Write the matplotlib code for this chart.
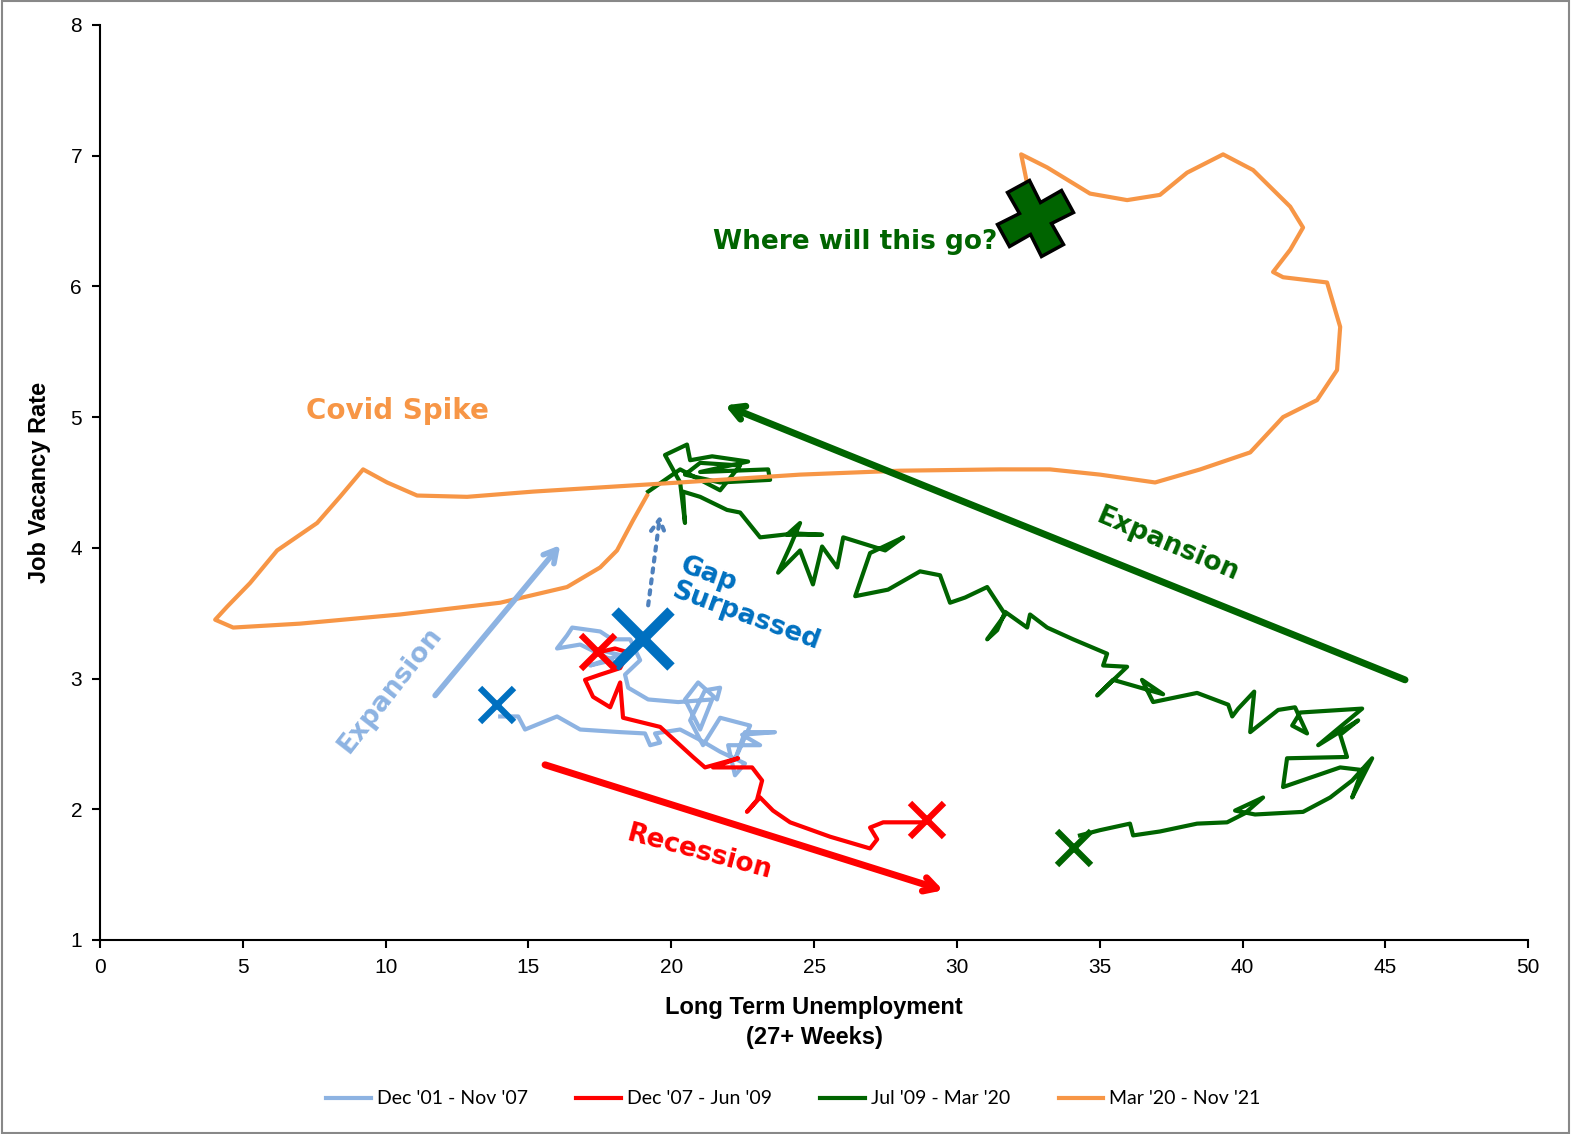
import matplotlib.pyplot as plt
import numpy as np
from matplotlib.markers import MarkerStyle
from matplotlib.transforms import Affine2D
from matplotlib.patches import Rectangle

# long term unemployment share (x) vs job vacancy rate (y)
x_0107 = [14.01, 14.64, 14.88, 16.00, 16.81, 18.21, 19.08, 19.26, 19.61, 19.43, 20.31, 21.01, 21.71, 22.58,
          22.23, 21.99, 23.11, 22.48, 23.63, 22.58, 22.23, 22.76, 21.71, 21.11, 20.66, 21.18, 21.71, 21.60,
          20.94, 20.48, 21.01, 21.43, 20.24, 19.19, 18.49, 18.38, 18.91, 18.56, 17.93, 17.51, 16.53, 16.35,
          16.00, 16.81, 17.93, 17.16, 18.21, 17.44]
y_0107 = [2.71, 2.71, 2.61, 2.71, 2.61, 2.59, 2.58, 2.49, 2.51, 2.58, 2.61, 2.53, 2.44, 2.35,
          2.26, 2.49, 2.49, 2.57, 2.59, 2.59, 2.38, 2.64, 2.70, 2.49, 2.68, 2.91, 2.93, 2.84,
          2.97, 2.84, 2.61, 2.84, 2.82, 2.84, 2.93, 3.03, 3.14, 3.30, 3.30, 3.36, 3.39, 3.33,
          3.23, 3.26, 3.14, 3.10, 3.18, 3.22]

x_0709 = [17.44, 18.03, 18.49, 18.21, 17.51, 16.98, 17.26, 17.86, 18.21, 18.31, 19.61, 20.76, 21.18, 22.34,
          21.46, 22.83, 23.18, 23.00, 22.65, 23.11, 23.56, 24.16, 25.56, 26.96, 27.21, 26.96, 27.42, 28.96]
y_0709 = [3.20, 3.23, 3.20, 3.08, 3.03, 2.99, 2.86, 2.78, 2.97, 2.70, 2.63, 2.40, 2.32, 2.39,
          2.32, 2.32, 2.22, 2.07, 1.98, 2.09, 1.99, 1.90, 1.79, 1.70, 1.77, 1.86, 1.90, 1.90]

x_0920 = [34.31, 35.01, 36.06, 36.17, 37.11, 38.41, 39.46, 40.09, 40.72, 39.74, 40.44, 42.12, 43.07, 43.84,
          44.54, 43.84, 44.19, 43.42, 41.42, 41.56, 43.66, 43.42, 44.05, 42.65, 44.19, 42.02, 41.74, 42.26,
          41.84, 41.25, 40.27, 40.41, 39.85, 39.64, 39.50, 38.41, 36.87, 36.48, 37.22, 35.47, 34.91, 35.96,
          35.12, 35.26, 34.07, 33.16, 32.56, 32.46, 31.69, 31.41, 31.06, 31.69, 31.06, 30.29, 29.76, 29.41,
          28.71, 27.59, 26.44, 26.96, 28.12, 27.49, 26.02, 25.81, 25.28, 24.96, 24.51, 23.74, 24.16, 24.51,
          24.05, 25.28, 24.33, 23.11, 22.41, 21.95, 21.01, 20.41, 20.48, 20.31, 19.78, 20.55, 20.66, 21.43,
          22.69, 21.01, 23.39, 23.46, 21.71, 20.48, 21.01, 22.41, 21.71, 20.31, 19.19]
y_0920 = [1.80, 1.84, 1.89, 1.80, 1.83, 1.89, 1.90, 1.97, 2.09, 1.99, 1.96, 1.98, 2.09, 2.22,
          2.39, 2.09, 2.30, 2.32, 2.17, 2.39, 2.40, 2.57, 2.68, 2.49, 2.77, 2.74, 2.64, 2.58,
          2.78, 2.76, 2.59, 2.90, 2.77, 2.71, 2.80, 2.89, 2.82, 2.99, 2.88, 2.99, 2.87, 3.09,
          3.10, 3.19, 3.30, 3.39, 3.49, 3.39, 3.51, 3.37, 3.30, 3.49, 3.70, 3.62, 3.58, 3.79,
          3.82, 3.68, 3.63, 3.96, 4.08, 3.98, 4.08, 3.85, 4.01, 3.72, 3.98, 3.81, 4.01, 4.19,
          4.10, 4.10, 4.11, 4.08, 4.27, 4.29, 4.39, 4.43, 4.19, 4.50, 4.71, 4.79, 4.67, 4.70,
          4.66, 4.58, 4.60, 4.52, 4.50, 4.56, 4.65, 4.63, 4.44, 4.60, 4.43]

x_2021 = [19.15, 18.66, 18.10, 17.51, 16.35, 14.01, 10.50, 7.00, 4.66, 4.03, 4.45, 5.25, 6.20, 7.60,
          8.40, 9.21, 10.05, 11.10, 12.85, 15.16, 20.31, 24.51, 28.01, 31.51, 33.26, 35.01, 36.94, 38.52,
          40.27, 41.42, 42.61, 43.31, 43.42, 42.96, 41.42, 41.07, 41.67, 42.12, 41.67, 40.37, 39.32, 38.06,
          37.11, 35.96, 34.66, 33.16, 32.25, 32.56]
y_2021 = [4.40, 4.21, 3.98, 3.85, 3.70, 3.58, 3.49, 3.42, 3.39, 3.45, 3.55, 3.73, 3.98, 4.19,
          4.39, 4.60, 4.50, 4.40, 4.39, 4.43, 4.50, 4.56, 4.59, 4.60, 4.60, 4.56, 4.50, 4.60,
          4.73, 5.00, 5.13, 5.36, 5.69, 6.03, 6.07, 6.11, 6.28, 6.45, 6.61, 6.89, 7.01, 6.87,
          6.70, 6.66, 6.71, 6.91, 7.01, 6.68]

labels = ["Dec '01 - Nov '07", "Dec '07 - Jun '09", "Jul '09 - Mar '20", "Mar '20 - Nov '21"]
c_lblue = '#8DB3E2'
c_red = '#FF0000'
c_green = '#006400'
c_orange = '#F79646'
c_blue = '#0070C0'

fig = plt.figure(figsize=(15.71, 11.34), dpi=100)
ax = fig.add_axes([0.0637, 0.1711, 0.909, 0.8069])
fig.patches.append(Rectangle((0.001, 0.001), 0.998, 0.998, transform=fig.transFigure,
                             fill=False, edgecolor='#888888', lw=1.5))

lw = 3.0
ax.plot(x_0107, y_0107, color=c_lblue, lw=lw, solid_joinstyle='round', label=labels[0])
ax.plot(x_0709, y_0709, color=c_red, lw=lw, solid_joinstyle='round', label=labels[1])
ax.plot(x_0920, y_0920, color=c_green, lw=lw, solid_joinstyle='round', label=labels[2])
ax.plot(x_2021, y_2021, color=c_orange, lw=lw, solid_joinstyle='round', label=labels[3])

# markers
ax.plot([13.9], [2.8], marker='x', color=c_blue, ms=24, mew=4.5, ls='none')
ax.plot([19.0], [3.3], marker='x', color=c_blue, ms=40, mew=7.5, ls='none')
ax.plot([17.44], [3.2], marker='x', color=c_red, ms=24, mew=4.5, ls='none')
ax.plot([28.96], [1.92], marker='x', color=c_red, ms=24, mew=4.5, ls='none')
ax.plot([34.1], [1.7], marker='x', color=c_green, ms=24, mew=4.5, ls='none')
plus = MarkerStyle('P', transform=Affine2D().rotate_deg(28))
ax.plot([32.74], [6.52], marker=plus, color=c_green, mec='black', mew=2.5, ms=52, ls='none')

# arrows and notes
def arrow(x0, y0, x1, y1, col, lw=5, ls='-'):
    ax.annotate('', xy=(x1, y1), xytext=(x0, y0),
                arrowprops=dict(arrowstyle='->, head_length=0.9, head_width=0.5',
                                color=col, lw=lw, linestyle=ls, shrinkA=0, shrinkB=0))

arrow(11.73, 2.87, 16.11, 4.02, c_lblue, lw=4)
arrow(19.19, 3.56, 19.61, 4.25, '#4F81BD', lw=3, ls=':')
arrow(15.58, 2.34, 29.52, 1.38, c_red, lw=5)
arrow(45.69, 2.99, 21.88, 5.09, c_green, lw=5)

bold = dict(family='DejaVu Sans', fontweight='bold', ha='center', va='center')
ax.text(10.15, 2.91, 'Expansion', color=c_lblue, fontsize=19, rotation=52, **bold)
ax.text(22.75, 3.57, 'Gap\nSurpassed', color=c_blue, fontsize=19, rotation=-20,
        linespacing=1.0, multialignment='left', **bold)
ax.text(21.0, 1.67, 'Recession', color=c_red, fontsize=19, rotation=-15, **bold)
ax.text(37.4, 4.02, 'Expansion', color=c_green, fontsize=19, rotation=-23, **bold)
ax.text(10.4, 5.05, 'Covid Spike', color=c_orange, fontsize=20, **bold)
ax.text(26.45, 6.34, 'Where will this go?', color=c_green, fontsize=19, **bold)

ax.set_xlim(0, 50)
ax.set_ylim(1, 8)
ax.set_xticks(range(0, 51, 5))
ax.set_yticks(range(1, 9))
for s in ['top', 'right']:
    ax.spines[s].set_visible(False)
for s in ['left', 'bottom']:
    ax.spines[s].set_linewidth(1.5)
ax.tick_params(direction='out', length=6, width=1.5, labelsize=15, pad=7)
for t in ax.get_xticklabels() + ax.get_yticklabels():
    t.set_family('Liberation Sans')

ax.set_xlabel("Long Term Unemployment\n(27+ Weeks)", fontsize=17, fontweight='bold',
              family='Liberation Sans', labelpad=14, linespacing=1.35)
ax.set_ylabel("Job Vacancy Rate", fontsize=17, fontweight='bold', family='Liberation Sans',
              labelpad=14)

fig.legend(loc='center', bbox_to_anchor=(0.505, 0.031), ncol=4, frameon=False,
           prop={'family': 'Lato', 'size': 14}, handlelength=2.3, columnspacing=2.5,
           handletextpad=0.3)

fig.savefig('out.png', dpi=100)
